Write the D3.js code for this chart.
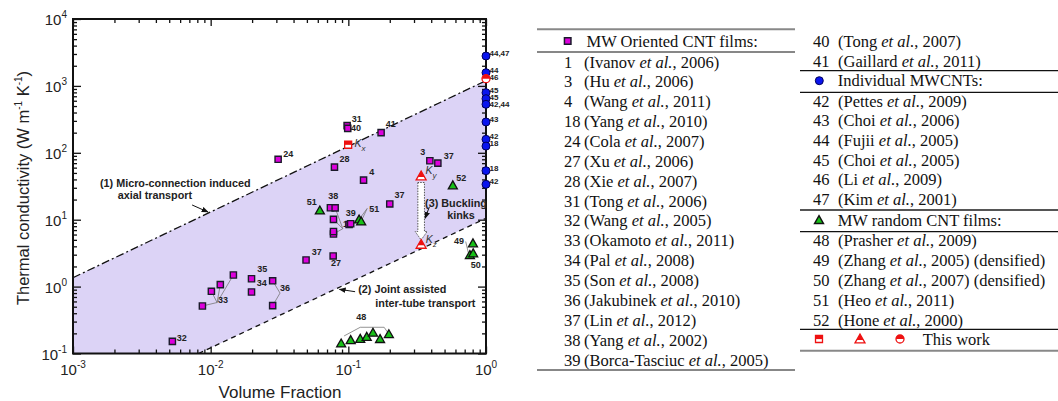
<!DOCTYPE html>
<html>
<head>
<meta charset="utf-8">
<script src="https://cdnjs.cloudflare.com/ajax/libs/d3/7.8.5/d3.min.js"></script>
<style>
body { margin: 0; background: #fff; }
svg { display: block; font-family: Arial, "Liberation Sans", sans-serif; }
.tick line { stroke: #111; stroke-width: 1.3; }
.domain { display: none; }
.leader { fill: none; stroke: #777; stroke-width: 0.8; }
.ptlabel { font-size: 9px; font-weight: bold; fill: #222; }
.axlabel { font-size: 8px; font-weight: bold; fill: #222; }
.note { font-size: 10.8px; font-weight: bold; fill: #222; }
</style>
</head>
<body>
<div id="plot1"></div>
<script>
// ---- data: [volume fraction, k (W/m/K)] ----
var orientedFilms = [
  [0.098, 255], [0.099, 232], [0.173, 200], [0.0309, 80], [0.0793, 61], [0.129, 39],
  [0.391, 76], [0.447, 70], [0.200, 17.2], [0.0493, 2.50], [0.0776, 2.87],
  [0.0741, 15.1], [0.0802, 15.0], [0.078, 10.1], [0.078, 6.11], [0.078, 6.66],
  [0.1013, 8.47], [0.104, 8.7],
  [0.01462, 1.49], [0.01175, 1.07], [0.01012, 0.851], [0.00871, 0.513],
  [0.0198, 1.31], [0.0198, 0.830], [0.0282, 1.22], [0.0282, 0.519], [0.00527, 0.152]
];
var randomFilms = [
  [0.574, 32.7], [0.0621, 13.8], [0.1197, 10.1], [0.124, 9.46],
  [0.804, 4.44], [0.764, 2.97], [0.807, 3.15],
  [0.0887, 0.142], [0.104, 0.159], [0.122, 0.166], [0.136, 0.178], [0.151, 0.205],
  [0.170, 0.165], [0.197, 0.195]
];
var individualTubes = [
  [1, 2800], [1, 1575], [1, 791], [1, 644], [1, 531],
  [1, 289], [1, 159], [1, 126], [1, 54], [1, 33.8]
];
var individualLabels = ["44,47", "44", "45", "45", "42,44", "43", "42", "18", "18", "42"];

// this work: kx (square), ky and kz (triangles), individual tube (circle)
var thisWork = [[0.0997, 132], [0.338, 45], [0.338, 4.29], [1, 1282]];
var thisWorkShapes = ["square", "triangle", "triangle", "circle"];
var thisWorkLabels = ["x", "y", "z", "46"];
var kappaLabelPos = [[0.1107, 138], [0.363, 54.7], [0.365, 5.15]];

var pointLabels = [
  ["31", 0.106, 320], ["40", 0.1047, 235], ["41", 0.187, 267], ["24", 0.0337, 97],
  ["28", 0.0861, 80.7], ["4", 0.1416, 51.6], ["3", 0.3325, 103], ["37", 0.494, 90.6],
  ["52", 0.607, 42.4], ["38", 0.0716, 22.9], ["37", 0.216, 23.2], ["51", 0.0499, 18.2],
  ["39", 0.0959, 12.7], ["1", 0.0916, 8.77], ["51", 0.1416, 14.5], ["37", 0.0543, 3.33],
  ["27", 0.0747, 2.23], ["35", 0.0218, 1.82], ["34", 0.0216, 1.12], ["36", 0.0319, 0.964],
  ["33", 0.01132, 0.631], ["32", 0.00568, 0.172], ["48", 0.114, 0.355], ["49", 0.585, 4.85],
  ["50", 0.776, 2.10]
];
var leaders = [
  [[0.01113, 0.578], [0.01462, 1.49]], [[0.01113, 0.578], [0.01175, 1.07]],
  [[0.01113, 0.578], [0.01012, 0.851]], [[0.01113, 0.578], [0.00871, 0.513]],
  [[0.0282, 1.22], [0.0319, 0.80], [0.0282, 0.519]],
  [[0.0802, 15.0], [0.0912, 7.34], [0.078, 6.11]], [[0.078, 10.1], [0.0912, 7.34]],
  [[0.137, 14.7], [0.1197, 10.1]], [[0.137, 14.7], [0.124, 9.46]],
  [[0.0932, 0.183], [0.122, 0.2466], [0.182, 0.2466], [0.197, 0.195]],
  [[0.712, 4.72], [0.748, 3.07]]
];

// boundaries of the shaded band (straight lines on log-log axes)
var upperBound = [[0.001, 1.36], [1, 1200]];
var lowerBound = [[0.00817, 0.1], [1, 10.5]];

var notes = [
  ["(1) Micro-connection induced", 0.00157, 35.4],
  ["axial transport", 0.00211, 23.4],
  ["(2) Joint assisted", 0.118, 0.92],
  ["inter-tube transport", 0.157, 0.569],
  ["(3) Buckling", 0.361, 17.8],
  ["kinks", 0.522, 11.7]
];
var noteArrows = [
  [[0.00733, 16.6], [0.00957, 13.0]],
  [[0.112, 0.839], [0.0861, 0.911]],
  [[0.388, 15.6], [0.361, 10.5]]
];

var xExponents = [-3, -2, -1, 0];
var yExponents = [-1, 0, 1, 2, 3, 4];

// legend references: number, first author, year, suffix
var orientedRefs = [["1","Ivanov","2006"],["3","Hu","2006"],["4","Wang","2011"],["18","Yang","2010"],
  ["24","Cola","2007"],["27","Xu","2006"],["28","Xie","2007"],["31","Tong","2006"],["32","Wang","2005"],
  ["33","Okamoto","2011"],["34","Pal","2008"],["35","Son","2008"],["36","Jakubinek","2010"],
  ["37","Lin","2012"],["38","Yang","2002"],["39","Borca-Tasciuc","2005"],["40","Tong","2007"],
  ["41","Gaillard","2011"]];
var individualRefs = [["42","Pettes","2009"],["43","Choi","2006"],["44","Fujii","2005"],
  ["45","Choi","2005"],["46","Li","2009"],["47","Kim","2001"]];
var randomRefs = [["48","Prasher","2009"],["49","Zhang","2005"," (densified)"],
  ["50","Zhang","2007"," (densified)"],["51","Heo","2011"],["52","Hone","2000"]];

// ---- drawing ----
var MAG = "#dd00dd", GRN = "#17c117", BLU = "#0a14ee", RED = "#ee1111";
var width = 1058, height = 401;
var svg = d3.select("div#plot1").append("svg").attr("width", width).attr("height", height);
var defs = svg.append("defs");
defs.append("marker").attr("id", "ah").attr("viewBox", "0 -5 10 10")
  .attr("refX", 9).attr("refY", 0).attr("markerWidth", 7).attr("markerHeight", 7)
  .attr("orient", "auto").attr("markerUnits", "userSpaceOnUse")
  .append("path").attr("d", "M0,-4L10,0L0,4Z").attr("fill", "#111");

var L = 73, R = 486, T = 19, B = 353.5;
var x = d3.scaleLog().domain([1e-3, 1]).range([L, R]);
var y = d3.scaleLog().domain([0.1, 1e4]).range([B, T]);
var line = d3.line().x(function(d) { return x(d[0]); }).y(function(d) { return y(d[1]); });

defs.append("clipPath").attr("id", "clip").append("rect")
  .attr("x", L).attr("y", T).attr("width", R - L).attr("height", B - T);
var plot = svg.append("g").attr("clip-path", "url(#clip)");

// band
var band = [[1e-3, 0.1], upperBound[0], upperBound[1], lowerBound[1], lowerBound[0]];
plot.append("path").datum(band).attr("d", line(band) + "Z").attr("fill", "#dcd3f6");
plot.append("path").datum(upperBound).attr("d", line).attr("fill", "none")
  .attr("stroke", "#111").attr("stroke-width", 1.3).attr("stroke-dasharray", "8,3,2,3");
plot.append("path").datum(lowerBound).attr("d", line).attr("fill", "none")
  .attr("stroke", "#111").attr("stroke-width", 1.3).attr("stroke-dasharray", "5,4");

// axes: inward major / minor ticks on all four sides
var xAll = x.ticks(), yAll = y.ticks();
function isMajor(v) { return Math.abs(Math.log10(v) - Math.round(Math.log10(v))) < 1e-6; }
var xMaj = xAll.filter(isMajor), xMin = xAll.filter(function(v) { return !isMajor(v); });
var yMaj = yAll.filter(isMajor), yMin = yAll.filter(function(v) { return !isMajor(v); });
function addAxis(gen, tr, vals, len) {
  svg.append("g").attr("transform", tr)
    .call(gen.tickValues(vals).tickSize(-len).tickFormat(""));
}
[[xMaj, 7], [xMin, 4]].forEach(function(p) {
  addAxis(d3.axisBottom(x), "translate(0," + B + ")", p[0], p[1]);
  addAxis(d3.axisTop(x), "translate(0," + T + ")", p[0], p[1]);
});
[[yMaj, 8], [yMin, 4]].forEach(function(p) {
  addAxis(d3.axisLeft(y), "translate(" + L + ",0)", p[0], p[1]);
  addAxis(d3.axisRight(y), "translate(" + R + ",0)", p[0], p[1]);
});
svg.append("rect").attr("x", L).attr("y", T).attr("width", R - L).attr("height", B - T)
  .attr("fill", "none").attr("stroke", "#111").attr("stroke-width", 2);

// tick labels
xExponents.forEach(function(e) {
  var t = svg.append("text").attr("x", x(Math.pow(10, e))).attr("y", 375)
    .attr("text-anchor", "middle").attr("font-size", 15).attr("fill", "#222");
  t.append("tspan").text("10");
  t.append("tspan").attr("font-size", 10).attr("dy", -7).text(e);
});
yExponents.forEach(function(e) {
  var t = svg.append("text").attr("x", 67).attr("y", y(Math.pow(10, e)) + 6)
    .attr("text-anchor", "end").attr("font-size", 15).attr("fill", "#222");
  t.append("tspan").text("10");
  t.append("tspan").attr("font-size", 10).attr("dy", -7).text(e);
});

// axis titles
svg.append("text").attr("x", 280).attr("y", 398).attr("text-anchor", "middle")
  .attr("font-size", 17).attr("fill", "#222").text("Volume Fraction");
var yt = svg.append("text").attr("transform", "translate(28.5,188) rotate(-90)")
  .attr("text-anchor", "middle").attr("font-size", 16.5).attr("fill", "#222");
yt.append("tspan").text("Thermal conductivity (W m");
yt.append("tspan").attr("font-size", 10).attr("dy", -7).text("-1");
yt.append("tspan").attr("dy", 7).text(" K");
yt.append("tspan").attr("font-size", 10).attr("dy", -7).text("-1");
yt.append("tspan").attr("dy", 7).text(")");

// notes and arrows
var ann = svg.append("g");
notes.forEach(function(n) {
  ann.append("text").attr("class", "note").attr("x", x(n[1])).attr("y", y(n[2])).attr("dy", "0.35em").text(n[0]);
});
noteArrows.forEach(function(a) {
  ann.append("path").attr("d", line(a)).attr("stroke", "#111").attr("stroke-width", 1)
    .attr("fill", "none").attr("marker-end", "url(#ah)");
});

// leader lines and point labels (drawn under the markers)
leaders.forEach(function(l) { ann.append("path").attr("class", "leader").attr("d", line(l)); });
pointLabels.forEach(function(p) {
  ann.append("text").attr("class", "ptlabel").attr("x", x(p[1])).attr("y", y(p[2])).attr("dy", "0.35em").text(p[0]);
});

// labels along the right axis: pushed apart a little where they crowd
var axisLabels = individualTubes.map(function(d, i) { return { t: individualLabels[i], yy: y(d[1]) - 3 }; });
axisLabels.push({ t: thisWorkLabels[3], yy: y(thisWork[3][1]) - 3 });
axisLabels.sort(function(a, b) { return a.yy - b.yy; });
for (var i = 1; i < axisLabels.length; i++) {
  if (axisLabels[i].yy - axisLabels[i - 1].yy < 7.2) axisLabels[i].yy = axisLabels[i - 1].yy + 7.2;
}
axisLabels.forEach(function(a) {
  ann.append("text").attr("class", "axlabel").attr("x", R + 3.5).attr("y", a.yy).attr("dy", "0.35em").text(a.t);
});

// hollow dotted arrow between ky and kz
(function() {
  var cx = x(thisWork[1][0]), top = y(thisWork[1][1]) + 6.5, tip = y(thisWork[2][1]) - 4.3;
  var hs = 3.3, hw = 6, hl = 8.5;
  var d = "M" + (cx - hs) + "," + top + "V" + (tip - hl) + "H" + (cx - hw) + "L" + cx + "," + tip +
    "L" + (cx + hw) + "," + (tip - hl) + "H" + (cx + hs) + "V" + top + "Z";
  ann.append("path").attr("d", d).attr("fill", "#fff").attr("stroke", "#555")
    .attr("stroke-width", 1).attr("stroke-dasharray", "1.5,1.2");
})();

// marker shapes
function sqPath(cx, cy, s) { return "M" + (cx - s / 2) + "," + (cy - s / 2) + "h" + s + "v" + s + "h" + (-s) + "Z"; }
function triPath(cx, cy, w) {
  var h = w * 0.88;
  return "M" + cx + "," + (cy - h * 0.55) + "L" + (cx + w / 2) + "," + (cy + h * 0.45) + "L" + (cx - w / 2) + "," + (cy + h * 0.45) + "Z";
}
function halfShape(g, shape, cx, cy) {
  if (shape === "square") {
    g.append("path").attr("d", sqPath(cx, cy, 7)).attr("fill", "#fff").attr("stroke", RED).attr("stroke-width", 1.3);
    g.append("rect").attr("x", cx - 3.5).attr("y", cy - 3.5).attr("width", 7).attr("height", 3.6).attr("fill", RED);
  } else if (shape === "triangle") {
    var w = 10, h = w * 0.88;
    g.append("path").attr("d", triPath(cx, cy, w)).attr("fill", "#fff").attr("stroke", RED).attr("stroke-width", 1.3);
    var yTop = cy - h * 0.55, yMid = cy + h * 0.12;
    var f = (yMid - yTop) / h;
    g.append("path").attr("d", "M" + cx + "," + yTop + "L" + (cx + f * w / 2) + "," + yMid + "L" + (cx - f * w / 2) + "," + yMid + "Z").attr("fill", RED);
  } else {
    g.append("circle").attr("cx", cx).attr("cy", cy).attr("r", 4).attr("fill", "#fff").attr("stroke", RED).attr("stroke-width", 1.3);
    g.append("path").attr("d", "M" + (cx - 4) + "," + cy + "A4,4 0 0 1 " + (cx + 4) + "," + cy + "Z").attr("fill", RED);
  }
}

var marks = svg.append("g");
marks.selectAll("path.sq").data(orientedFilms).enter().append("path").attr("class", "sq")
  .attr("d", function(d) { return sqPath(x(d[0]), y(d[1]), 6.2); })
  .attr("fill", MAG).attr("stroke", "#1a1a2a").attr("stroke-width", 1.4);
marks.selectAll("path.tri").data(randomFilms).enter().append("path").attr("class", "tri")
  .attr("d", function(d) { return triPath(x(d[0]), y(d[1]), 9); })
  .attr("fill", GRN).attr("stroke", "#111").attr("stroke-width", 1.3);
marks.selectAll("circle.ind").data(individualTubes).enter().append("circle").attr("class", "ind")
  .attr("cx", function(d) { return x(d[0]); }).attr("cy", function(d) { return y(d[1]); })
  .attr("r", 4).attr("fill", BLU).attr("stroke", "#00005a").attr("stroke-width", 1);
thisWork.forEach(function(d, i) { halfShape(marks, thisWorkShapes[i], x(d[0]), y(d[1])); });

// kappa labels
kappaLabelPos.forEach(function(p, i) {
  var t = marks.append("text").attr("x", x(p[0])).attr("y", y(p[1])).attr("dy", "0.35em")
    .attr("font-size", 10.5).attr("font-style", "italic").attr("fill", "#333");
  t.append("tspan").text("K");
  t.append("tspan").attr("font-size", 8).attr("dy", 4).text(thisWorkLabels[i]);
});

// ---- legend table ----
var leg = svg.append("g").attr("font-family", '"Liberation Serif","Times New Roman",serif')
  .attr("font-size", 16.5).attr("fill", "#111");
function rule(x1, x2, yy, col, w) {
  leg.append("line").attr("x1", x1).attr("x2", x2).attr("y1", yy).attr("y2", yy)
    .attr("stroke", col).attr("stroke-width", w);
}
function refRow(xn, xt, yc, ref) {
  leg.append("text").attr("x", xn).attr("y", yc + 5.5).text(ref[0]);
  var t = leg.append("text").attr("x", xt).attr("y", yc + 5.5);
  t.append("tspan").text("(" + ref[1] + " ");
  t.append("tspan").attr("font-style", "italic").text("et al.");
  t.append("tspan").text(", " + ref[2] + ")" + (ref[3] || ""));
}
// left column
rule(537, 795, 29.3, "#888", 2);
leg.append("path").attr("d", sqPath(567.7, 41, 6.5)).attr("fill", MAG).attr("stroke", "#1a1a2a").attr("stroke-width", 1.5);
leg.append("text").attr("x", 586.5).attr("y", 46.5).text("MW Oriented CNT films:");
rule(537, 795, 52, "#111", 1.2);
orientedRefs.slice(0, 16).forEach(function(r, i) { refRow(564, 584, 62 + i * 19.87, r); });
rule(537, 795, 370, "#111", 1.2);
// right column
orientedRefs.slice(16).forEach(function(r, i) { refRow(813, 838, 41 + i * 20, r); });
rule(800, 1058, 70.7, "#111", 1.2);
leg.append("circle").attr("cx", 819.3).attr("cy", 80.7).attr("r", 4).attr("fill", BLU).attr("stroke", "#00005a");
leg.append("text").attr("x", 837.7).attr("y", 86.2).text("Individual MWCNTs:");
rule(800, 1058, 92.3, "#111", 1.2);
individualRefs.forEach(function(r, i) { refRow(813, 838, 101 + i * 19.7, r); });
rule(800, 1058, 210, "#555", 1.8);
leg.append("path").attr("d", triPath(819, 220, 9)).attr("fill", GRN).attr("stroke", "#111").attr("stroke-width", 1.4);
leg.append("text").attr("x", 837.7).attr("y", 225.5).text("MW random CNT films:");
rule(800, 1058, 231.7, "#111", 1.2);
randomRefs.forEach(function(r, i) { refRow(813, 838, 240 + i * 20, r); });
rule(800, 1058, 329.3, "#111", 1.2);
halfShape(leg, "square", 819, 339);
halfShape(leg, "triangle", 860, 339);
halfShape(leg, "circle", 900, 339);
leg.append("text").attr("x", 922.7).attr("y", 344.5).text("This work");
rule(800, 1058, 350.7, "#888", 2);
</script>
</body>
</html>
